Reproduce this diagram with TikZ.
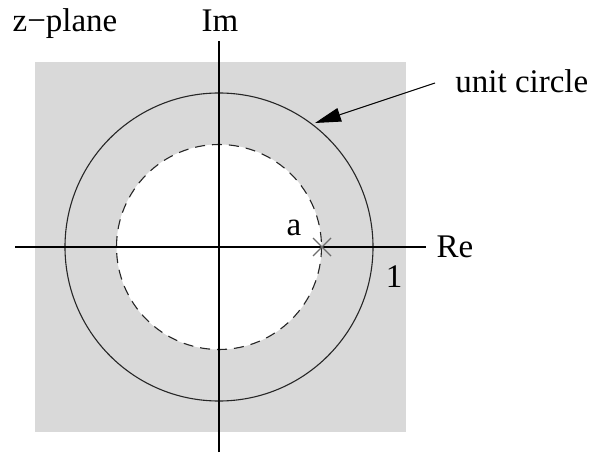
\documentclass[tikz,border=0pt]{standalone}
\usepackage{fontspec}
\setmainfont{Liberation Serif}
\usetikzlibrary{arrows.meta}
\definecolor{bggray}{RGB}{217,217,217}
\definecolor{crossgray}{RGB}{110,110,110}
\begin{document}
\begin{tikzpicture}[x=0.5pt,y=-0.5pt,
  lbl/.style={font=\fontsize{16.5}{19}\selectfont, inner sep=0pt, anchor=base},
  axisline/.style={line width=0.65pt, black},
  circ/.style={line width=0.55pt, black!85}]
\useasboundingbox (0,0) rectangle (598,454);
\fill[bggray] (35,62) rectangle (406,432);
\coordinate (O) at (219,247);
\draw[circ] (O) circle[radius=154];
\fill[white] (O) circle[radius=102.5];
\draw[circ, dash pattern=on 5pt off 3.5pt] (O) circle[radius=102.5];
% axes
\coordinate (xl) at (15,247);
\coordinate (xr) at (426,247);
\coordinate (yt) at (219,41);
\coordinate (yb) at (219,452);
\draw[axisline] (xl) -- (xr);
\draw[axisline] (yb) -- (yt);
% pole
\coordinate (pa) at (322,247);
\draw[crossgray, line width=0.6pt] ([shift={(-9,-9)}]pa) -- ([shift={(9,9)}]pa)
  ([shift={(-9,9)}]pa) -- ([shift={(9,-9)}]pa);
% labels
\node[lbl] (zp) at (65,32) {z−plane};
\node[lbl] (im) at (220,32) {Im};
\node[lbl] (re) at (455,257) {Re};
\node[lbl] (a) at (294,235) {a};
\node[lbl] (one) at (394,287) {1};
\node[lbl, anchor=base west] (uc) at (455,93) {unit circle};
\coordinate (tip) at (315,123);
\draw[line width=0.5pt, -{Triangle[length=13pt,width=7pt]}] (435,83) -- (tip);
\end{tikzpicture}
\end{document}
